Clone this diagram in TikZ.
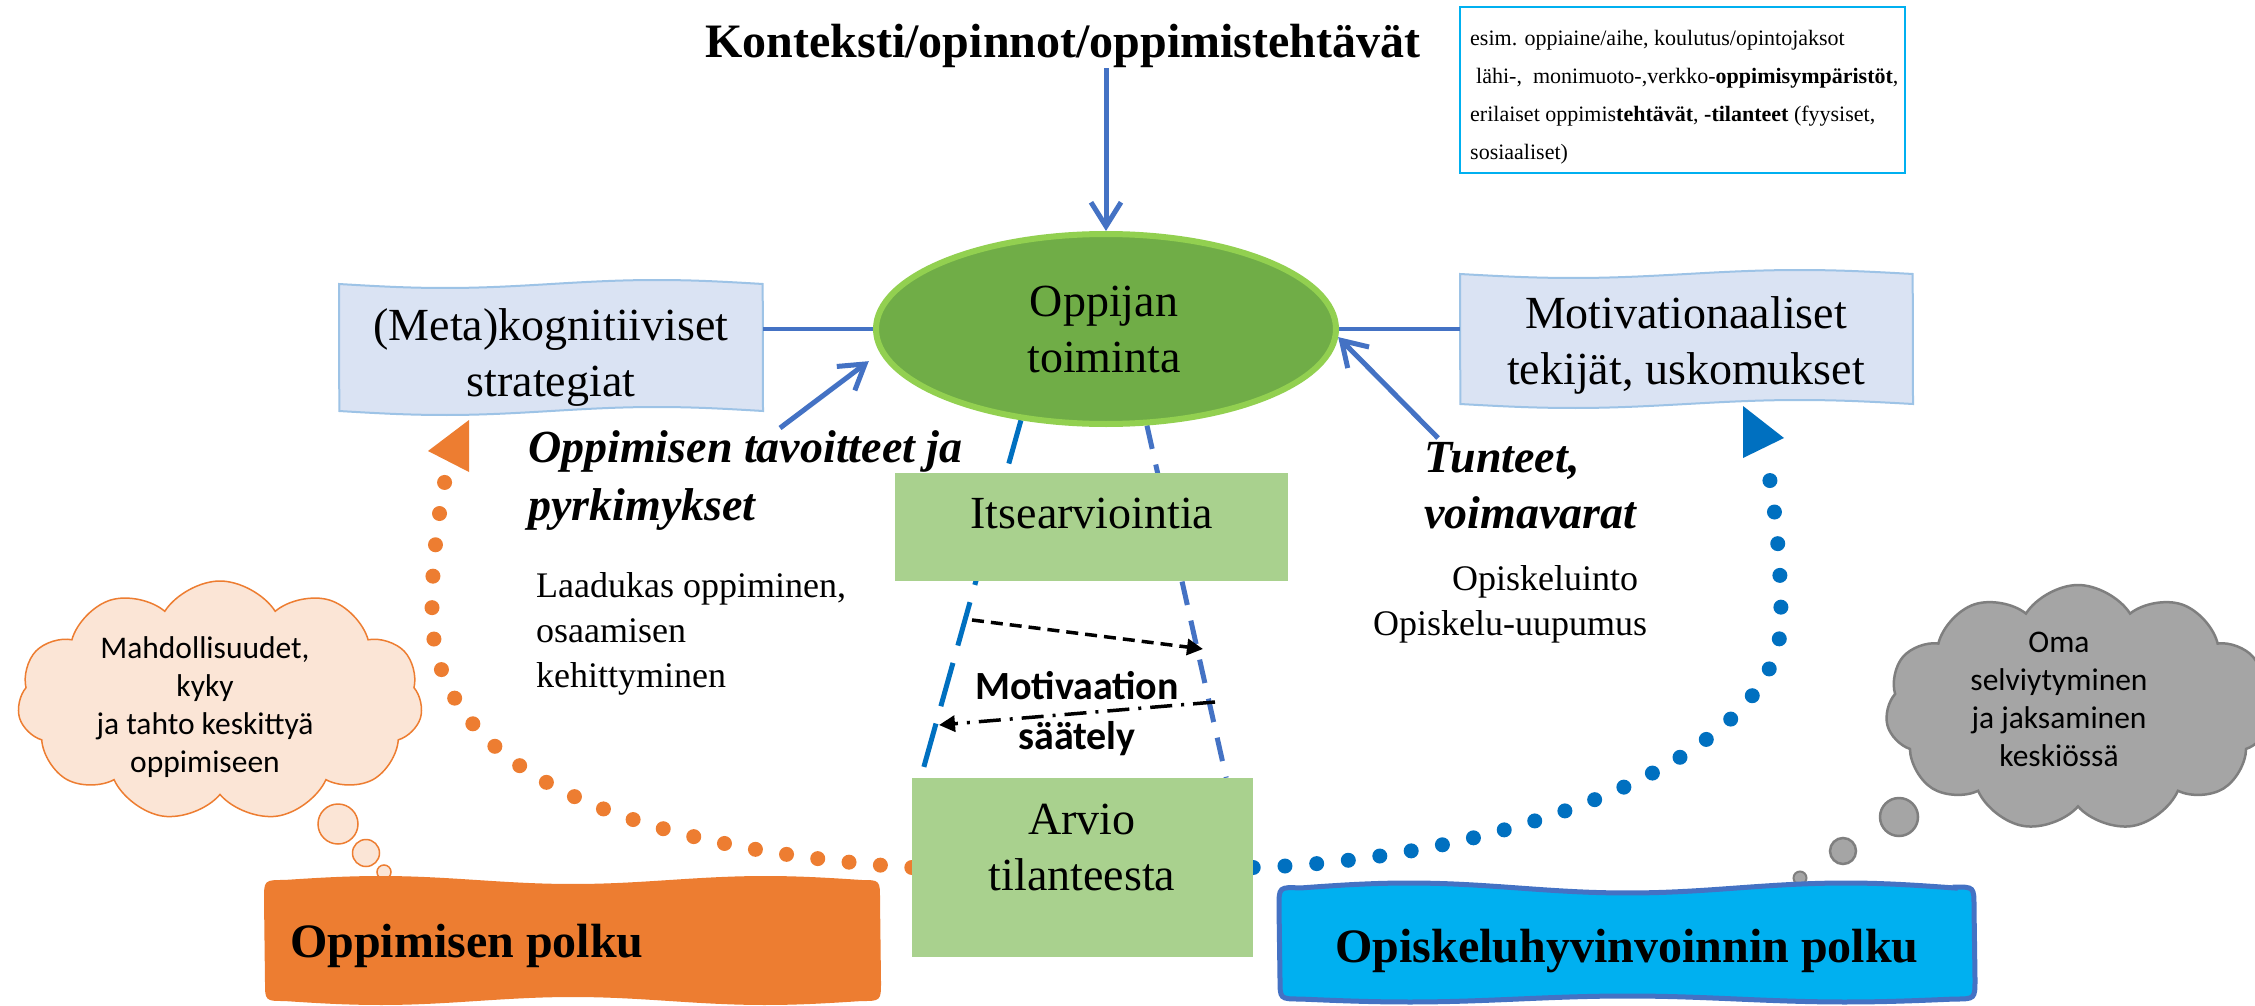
\documentclass[tikz,border=0pt]{standalone}
\usepackage{fontspec}
\setmainfont{Liberation Serif}
\newfontfamily\calibri{Carlito}
\usetikzlibrary{arrows.meta,shapes.geometric,shapes.symbols,backgrounds}

\definecolor{lineblue}{HTML}{4472C4}
\definecolor{darkblue}{HTML}{0070C0}
\definecolor{porange}{HTML}{ED7D31}
\definecolor{lorange}{HTML}{FBE5D6}
\definecolor{cgray}{HTML}{A5A5A5}
\definecolor{cgrayline}{HTML}{7F7F7F}
\definecolor{ellfill}{HTML}{70AD47}
\definecolor{ellline}{HTML}{92D050}
\definecolor{boxgreen}{HTML}{A9D18E}
\definecolor{boxblue}{HTML}{DAE3F3}
\definecolor{boxblueline}{HTML}{9DC3E6}
\definecolor{pcyan}{HTML}{00B0F0}

\begin{document}
\begin{tikzpicture}[x=1pt,y=-1pt,
  serifbig/.style={font=\fontsize{46}{56}\selectfont, inner sep=0pt, align=center},
  bluearrow/.style={draw=lineblue, line width=5pt, -{Straight Barb[length=24pt,width=30pt]}},
  hline/.style={draw=lineblue, line width=4pt},
  orangedots/.style={draw=porange, line width=15pt, line cap=round, dash pattern=on 0pt off 31.5pt},
  bluedots/.style={draw=darkblue, line width=15pt, line cap=round, dash pattern=on 0pt off 31.8pt},
  wavebox/.style={fill=boxblue, draw=boxblueline, line width=2pt},
  greenbox/.style={fill=boxgreen, inner sep=0pt},
  calfont/.style={font=\calibri\fontsize{31.5}{38}\selectfont, inner sep=0pt, align=center},
  blackdash/.style={draw=black, line width=3.5pt, -{Triangle[length=16pt,width=16pt]}},
  bannerfont/.style={font=\bfseries\fontsize{48}{56}\selectfont, inner sep=0pt},
]
\useasboundingbox (0,0) rectangle (2255,1006);
\begin{scope}[on background layer]
  \fill[white] (0,0) rectangle (2255,1006);
\end{scope}

% title
\node[font=\bfseries\fontsize{48}{56}\selectfont, inner sep=0pt, anchor=base] (title) at (1063,58) {Konteksti/opinnot/oppimistehtävät};

% context box
\node[draw=pcyan, line width=2.5pt, minimum width=445pt, minimum height=166pt, inner sep=0pt] (ctxbox) at (1682.5,90) {};
\node[font=\fontsize{22}{38}\selectfont, inner sep=0pt, anchor=north west, align=left] (ctxtxt) at (1470,30)
  {esim. oppiaine/aihe, koulutus/opintojaksot\\
   \hspace*{6pt}lähi-,\ \ monimuoto-,verkko-\textbf{oppimisympäristöt},\\
   erilaiset oppimis\textbf{tehtävät}, \textbf{-tilanteet} (fyysiset,\\
   sosiaaliset)};

% ellipse
\node[ellipse, fill=ellfill, draw=ellline, line width=6pt, minimum width=460pt, minimum height=190pt, inner sep=0pt] (ell) at (1106,329) {};
\node[serifbig, anchor=north] (elltxt) at (1104,286) {Oppijan\\toiminta};

% wavy blue boxes
\path[wavebox] plot[domain=0:1,samples=60] ({339+424*\x},{284+4*sin(360*\x)})
  -- plot[domain=1:0,samples=60] ({339+424*\x},{411+4*sin(360*\x)}) -- cycle;
\node[minimum width=424pt, minimum height=128pt, inner sep=0pt] (meta) at (551,347.5) {};
\node[serifbig, anchor=north] (metatxt) at (551,308) {(Meta)kognitiiviset\\strategiat};

\path[wavebox] plot[domain=0:1,samples=60] ({1460+453*\x},{274+4*sin(360*\x)})
  -- plot[domain=1:0,samples=60] ({1460+453*\x},{404+4*sin(360*\x)}) -- cycle;
\node[minimum width=453pt, minimum height=133pt, inner sep=0pt] (mot) at (1686.5,338.5) {};
\node[serifbig, anchor=north] (mottxt) at (1686,296.6) {Motivationaaliset\\tekijät, uskomukset};

% connectors to ellipse
\draw[bluearrow] (title.south -| ell.north) -- (ell.north);
\draw[hline] (ell.west) -- (ell.west -| meta.east);
\draw[hline] (ell.east) -- (ell.east -| mot.west);
\coordinate (gtail) at (780,428);
\coordinate (ttail) at (1438,438);
\draw[bluearrow, shorten >=14pt] (gtail) -- (ell.186);
\draw[bluearrow] (ttail) -- (ell.358);

% green boxes
\node[greenbox, minimum width=341pt, minimum height=179pt] (arvio) at (1082.5,867.5) {};
\node[serifbig, anchor=north] (arviotxt) at (1082,803.6) {Arvio\\tilanteesta};

\begin{scope}[on background layer]
  \draw[darkblue, line width=5pt, dash pattern=on 45pt off 18pt] (ell.227) -- ([xshift=9pt]arvio.north west);
  \draw[lineblue, line width=5pt, dash pattern=on 24pt off 16pt] (ell.293) -- ([xshift=-27pt]arvio.north east);
  \draw[orangedots] (arvio.west) .. controls (650,850) and (430,780) .. (432,610)
     .. controls (432,560) and (438,520) .. (445,480);
  \draw[bluedots] (arvio.east) .. controls (1500,860) and (1781,760) .. (1781,620)
     .. controls (1781,560) and (1775,510) .. (1769,475);
\end{scope}

\node[greenbox, minimum width=393pt, minimum height=108pt] (itse) at (1091.5,527) {};
\node[serifbig, anchor=base] (itsetxt) at (1092,528) {Itsearviointia};

% arrowheads of dotted paths
\fill[porange] (469,420) -- (428,451) -- (469,472) -- cycle;
\fill[darkblue] (1743,406) -- (1784,438) -- (1743,458) -- cycle;

% motivation regulation
\coordinate (d1s) at (972,620);
\coordinate (d1e) at (1203,649);
\draw[blackdash, dash pattern=on 12pt off 7pt] (d1s) -- (d1e);
\coordinate (d2s) at (1215,702);
\coordinate (d2e) at (939,725);
\draw[blackdash, dash pattern=on 22pt off 9pt on 3pt off 9pt] (d2s) -- (d2e);
\node[font=\calibri\bfseries\fontsize{40}{50}\selectfont, inner sep=0pt, align=center, anchor=north] (mots) at (1077,671) {Motivaation\\säätely};

% side texts
\node[font=\bfseries\itshape\fontsize{46}{58}\selectfont, inner sep=0pt, align=left, anchor=north west] (goals) at (528,430) {Oppimisen tavoitteet ja\\pyrkimykset};
\node[font=\fontsize{36}{45}\selectfont, inner sep=0pt, align=left, anchor=north west] (quality) at (536,572) {Laadukas oppiminen,\\osaamisen\\kehittyminen};
\node[font=\bfseries\itshape\fontsize{46}{56}\selectfont, inner sep=0pt, align=left, anchor=north west] (feel) at (1424,442) {Tunteet,\\voimavarat};
\node[font=\fontsize{36}{45}\selectfont, inner sep=0pt, anchor=base west] (into) at (1452,590) {Opiskeluinto};
\node[font=\fontsize{36}{45}\selectfont, inner sep=0pt, anchor=base west] (uup) at (1373,635) {Opiskelu-uupumus};

% clouds
\node[cloud, cloud puffs=11, cloud puff arc=115, cloud ignores aspect, minimum width=405pt, minimum height=240pt, fill=lorange, draw=porange, line width=1.5pt, inner sep=0pt] (cloudL) at (220,701) {};
\node[calfont, anchor=north] (cloudLtxt) at (205,636) {Mahdollisuudet,\\kyky\\ja tahto keskittyä\\oppimiseen};
\node[circle, fill=lorange, draw=porange, line width=1.5pt, minimum size=40pt, inner sep=0pt] (bl1) at (338,824) {};
\node[circle, fill=lorange, draw=porange, line width=1.5pt, minimum size=27pt, inner sep=0pt] (bl2) at (366,853) {};
\node[circle, fill=lorange, draw=porange, line width=1.5pt, minimum size=14pt, inner sep=0pt] (bl3) at (384,872) {};

\node[cloud, cloud puffs=11, cloud puff arc=115, cloud ignores aspect, minimum width=385pt, minimum height=246pt, fill=cgray, draw=cgrayline, line width=2.5pt, inner sep=0pt] (cloudR) at (2078,708) {};
\node[calfont, anchor=north] (cloudRtxt) at (2059,631.5) {Oma\\selviytyminen\\ja jaksaminen\\keskiössä};
\node[circle, fill=cgray, draw=cgrayline, line width=2.5pt, minimum size=38pt, inner sep=0pt] (br1) at (1899,817) {};
\node[circle, fill=cgray, draw=cgrayline, line width=2.5pt, minimum size=26pt, inner sep=0pt] (br2) at (1843,851) {};
\node[circle, fill=cgray, draw=cgrayline, line width=2pt, minimum size=13pt, inner sep=0pt] (br3) at (1800,878) {};

% banners
\path[fill=porange, draw=porange, line width=2pt]
  (265,899) -- (266,982) .. controls (266,1000) .. (284,1000)
  -- plot[domain=0:1,samples=60] ({284+578*\x},{1000+4*sin(540*\x)})
  .. controls (880,1000) .. (880,982) -- (879,899) .. controls (879,881) .. (862,881)
  -- plot[domain=1:0,samples=60] ({284+578*\x},{881-4*sin(540*\x)})
  .. controls (265,881) .. (265,899) -- cycle;
\node[bannerfont, anchor=base west] (pathL) at (290,957) {Oppimisen polku};

\path[fill=pcyan, draw=lineblue, line width=5pt]
  (1279,907) -- (1280,979) .. controls (1280,999) .. (1300,999)
  -- plot[domain=0:1,samples=60] ({1300+655*\x},{999+3*sin(540*\x)})
  .. controls (1975,999) .. (1975,979) -- (1974,907) .. controls (1974,887) .. (1955,887)
  -- plot[domain=1:0,samples=60] ({1300+655*\x},{888-5*sin(540*\x)})
  .. controls (1279,887) .. (1279,907) -- cycle;
\node[bannerfont, anchor=base] (pathR) at (1627,962) {Opiskeluhyvinvoinnin polku};

\end{tikzpicture}
\end{document}
